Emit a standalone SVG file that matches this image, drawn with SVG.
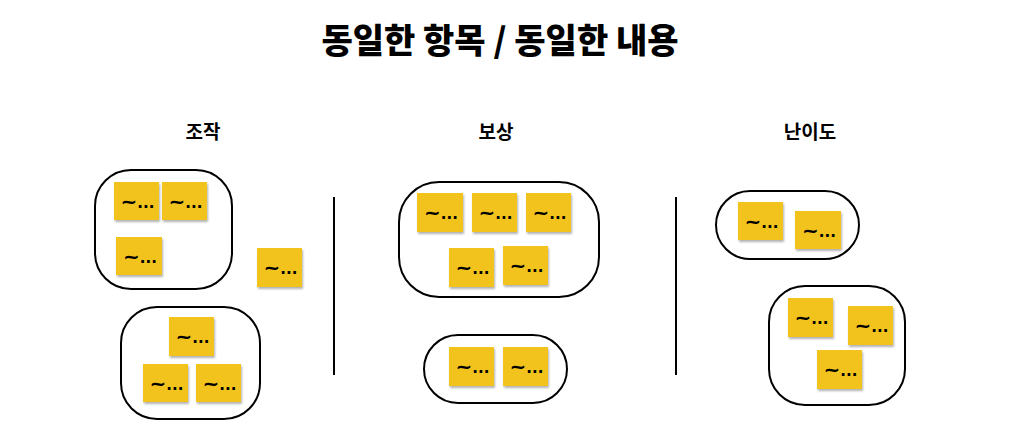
<svg xmlns="http://www.w3.org/2000/svg" width="1027" height="430" viewBox="0 0 1027 430">
<style>
.title{font-family:"Noto Sans CJK KR","Noto Sans",sans-serif;font-weight:900;font-size:34px;fill:#000;text-anchor:middle}
.head{font-family:"Noto Sans CJK KR","Noto Sans",sans-serif;font-weight:700;font-size:19px;fill:#000;text-anchor:middle}
.grp{fill:none;stroke:#000;stroke-width:2}
.div{stroke:#000;stroke-width:2}
.note rect{fill:#F2C31E;filter:url(#sh)}
.note text{font-family:"DejaVu Sans",sans-serif;font-weight:700;font-size:15px;fill:#000;text-anchor:middle}
.note tspan.t{font-size:20px}
</style>
<defs>
<filter id="sh" x="-20%" y="-20%" width="150%" height="150%">
<feDropShadow dx="1" dy="2" stdDeviation="1.2" flood-color="#000" flood-opacity="0.3"/>
</filter>
</defs>
<rect width="1027" height="430" fill="#fff"/>
<text class="title" x="500" y="53">동일한 항목 / 동일한 내용</text>
<text class="head" x="203" y="139">조작</text>
<text class="head" x="496" y="139">보상</text>
<text class="head" x="810" y="139">난이도</text>

<g id="connectors">
<line class="div" x1="334" y1="197" x2="334" y2="375"/>
<line class="div" x1="676" y1="197" x2="676" y2="375"/>
</g>

<g id="group-control-1"><rect class="grp" x="95" y="170" width="137" height="119" rx="36"/></g>
<g id="group-control-2"><rect class="grp" x="121" y="307" width="139" height="112" rx="36"/></g>
<g id="group-reward-1"><rect class="grp" x="399" y="182" width="200" height="115" rx="40"/></g>
<g id="group-reward-2"><rect class="grp" x="424" y="335" width="143" height="68" rx="34"/></g>
<g id="group-diff-1"><rect class="grp" x="716" y="191" width="143" height="68" rx="34"/></g>
<g id="group-diff-2"><rect class="grp" x="769" y="286" width="136" height="119" rx="36"/></g>

<g id="n1" class="note"><rect x="114" y="182" width="45" height="38"/><text x="137.5" y="208"><tspan class="t">~</tspan>...</text></g>
<g id="n2" class="note"><rect x="162" y="182" width="45" height="38"/><text x="185.5" y="208"><tspan class="t">~</tspan>...</text></g>
<g id="n3" class="note"><rect x="116" y="237" width="46" height="38"/><text x="140" y="263"><tspan class="t">~</tspan>...</text></g>
<g id="n4" class="note"><rect x="257" y="248" width="45" height="39"/><text x="280.5" y="274"><tspan class="t">~</tspan>...</text></g>
<g id="n5" class="note"><rect x="169" y="317" width="45" height="39"/><text x="192.5" y="343"><tspan class="t">~</tspan>...</text></g>
<g id="n6" class="note"><rect x="143" y="364" width="45" height="38"/><text x="166.5" y="390"><tspan class="t">~</tspan>...</text></g>
<g id="n7" class="note"><rect x="196" y="364" width="45" height="38"/><text x="219.5" y="390"><tspan class="t">~</tspan>...</text></g>

<g id="n8" class="note"><rect x="417" y="193" width="46" height="39"/><text x="441" y="219"><tspan class="t">~</tspan>...</text></g>
<g id="n9" class="note"><rect x="472" y="193" width="45" height="39"/><text x="495.5" y="219"><tspan class="t">~</tspan>...</text></g>
<g id="n10" class="note"><rect x="526" y="193" width="45" height="39"/><text x="549.5" y="219"><tspan class="t">~</tspan>...</text></g>
<g id="n11" class="note"><rect x="449" y="248" width="45" height="39"/><text x="472.5" y="274"><tspan class="t">~</tspan>...</text></g>
<g id="n12" class="note"><rect x="503" y="246" width="45" height="39"/><text x="526.5" y="272"><tspan class="t">~</tspan>...</text></g>
<g id="n13" class="note"><rect x="449" y="347" width="45" height="39"/><text x="472.5" y="373"><tspan class="t">~</tspan>...</text></g>
<g id="n14" class="note"><rect x="503" y="347" width="45" height="39"/><text x="526.5" y="373"><tspan class="t">~</tspan>...</text></g>

<g id="n15" class="note"><rect x="738" y="202" width="45" height="38"/><text x="761.5" y="228"><tspan class="t">~</tspan>...</text></g>
<g id="n16" class="note"><rect x="795" y="211" width="46" height="38"/><text x="819" y="237"><tspan class="t">~</tspan>...</text></g>
<g id="n17" class="note"><rect x="788" y="298" width="45" height="39"/><text x="811.5" y="324"><tspan class="t">~</tspan>...</text></g>
<g id="n18" class="note"><rect x="848" y="306" width="45" height="39"/><text x="871.5" y="332"><tspan class="t">~</tspan>...</text></g>
<g id="n19" class="note"><rect x="817" y="350" width="45" height="39"/><text x="840.5" y="376"><tspan class="t">~</tspan>...</text></g>
</svg>
